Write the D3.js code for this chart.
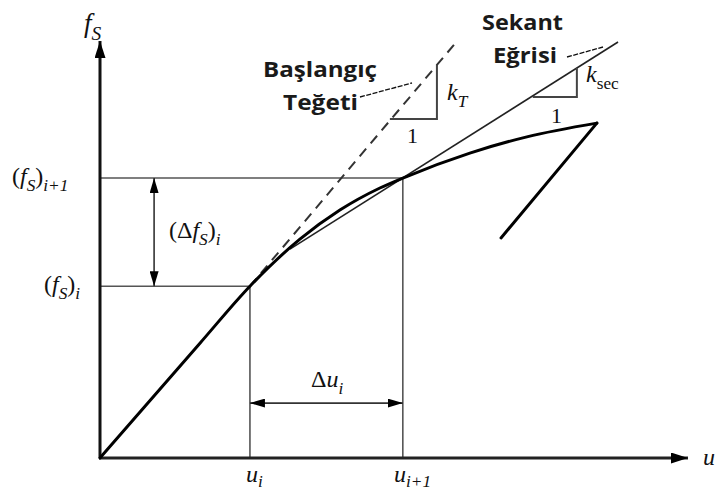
<!DOCTYPE html>
<html>
<head>
<meta charset="utf-8">
<script src="https://cdn.jsdelivr.net/npm/d3@7"></script>
<style>
  html, body { margin: 0; padding: 0; background: #fff; overflow: hidden; }
  svg { display: block; }
  .math { font-family: "Liberation Serif", "DejaVu Serif", serif; fill: #111; }
  .note { font-family: "Open Sans", "Noto Sans", sans-serif; font-weight: 700; fill: #1a1a1a; }
</style>
</head>
<body>
<svg id="chart" width="715" height="496"></svg>
<script>
// Force–displacement response (u, f_S): loading branch, then unloading
const curveU = [0, 1.70, 2.55, 3.40, 4.08, 4.76, 5.15, 6.29, 7.26, 8.45];
const curveF = [0, 2.76, 4.13, 5.26, 5.96, 6.49, 6.73, 7.33, 7.72, 8.05];
const unloadU = [8.45, 6.82];
const unloadF = [8.05, 5.29];

// Step i -> i+1
const stepU = [2.55, 5.15];   // u_i, u_{i+1}
const stepF = [4.13, 6.73];   // (f_S)_i, (f_S)_{i+1}

// Initial tangent (dashed) and secant line
const tangentU = [2.55, 6.09];
const tangentF = [4.13, 10.05];
const secantU = [3.23, 8.81];
const secantF = [5.02, 10.0];

// Slope triangles: [run start, run end], [rise bottom, rise top]
const tanTriU = [4.93, 5.73];
const tanTriF = [8.15, 9.45];
const secTriU = [7.36, 8.11];
const secTriF = [8.68, 9.375];

// Dimension arrows
const dfArrowU = 0.92;
const duArrowF = 1.32;

const svg = d3.select("#chart");
const x = d3.scaleLinear().domain([0, 10]).range([100, 688]);
const y = d3.scaleLinear().domain([0, 10]).range([458, 42]);

const defs = svg.append("defs");
function marker(id, len, wid) {
  defs.append("marker")
    .attr("id", id)
    .attr("viewBox", `0 ${-wid / 2} ${len} ${wid}`)
    .attr("refX", len).attr("refY", 0)
    .attr("markerUnits", "userSpaceOnUse")
    .attr("markerWidth", len).attr("markerHeight", wid)
    .attr("orient", "auto-start-reverse")
    .append("path")
    .attr("d", `M0,${-wid / 2}L${len},0L0,${wid / 2}Z`)
    .attr("fill", "#000");
}
marker("axisHead", 17, 11);
marker("dimHead", 15, 9);

const g = svg.append("g");
const seg = (x1, y1, x2, y2) => g.append("line")
  .attr("x1", x1).attr("y1", y1).attr("x2", x2).attr("y2", y2);

// Reference lines to the axes
const grey = "#555";
seg(x(0), y(stepF[1]), x(stepU[1]), y(stepF[1])).attr("stroke", grey).attr("stroke-width", 1.6);
seg(x(0), y(stepF[0]), x(stepU[0]), y(stepF[0])).attr("stroke", grey).attr("stroke-width", 1.6);
seg(x(stepU[0]), y(0), x(stepU[0]), y(stepF[0])).attr("stroke", grey).attr("stroke-width", 1.6);
seg(x(stepU[1]), y(0), x(stepU[1]), y(stepF[1])).attr("stroke", grey).attr("stroke-width", 1.6);

// Dimension arrows
seg(x(dfArrowU), y(stepF[1]), x(dfArrowU), y(stepF[0]))
  .attr("stroke", "#333").attr("stroke-width", 1.6)
  .attr("marker-start", "url(#dimHead)").attr("marker-end", "url(#dimHead)");
seg(x(stepU[0]), y(duArrowF), x(stepU[1]), y(duArrowF))
  .attr("stroke", "#333").attr("stroke-width", 1.6)
  .attr("marker-start", "url(#dimHead)").attr("marker-end", "url(#dimHead)");

// Axes
seg(x(0), y(0), x(0), y(10) - 1).attr("stroke", "#111").attr("stroke-width", 3)
  .attr("marker-end", "url(#axisHead)");
seg(x(0) - 1, y(0), x(10), y(0)).attr("stroke", "#222").attr("stroke-width", 3)
  .attr("marker-end", "url(#axisHead)");

// Tangent (dashed) and secant lines
seg(x(tangentU[0]), y(tangentF[0]), x(tangentU[1]), y(tangentF[1]))
  .attr("stroke", "#333").attr("stroke-width", 2).attr("stroke-dasharray", "10,7");
seg(x(secantU[0]), y(secantF[0]), x(secantU[1]), y(secantF[1]))
  .attr("stroke", "#222").attr("stroke-width", 1.6);

// Slope triangles
const tri = (us, fs) => g.append("path")
  .attr("d", d3.line()([[x(us[0]), y(fs[0])], [x(us[1]), y(fs[0])], [x(us[1]), y(fs[1])]]))
  .attr("fill", "none").attr("stroke", "#444").attr("stroke-width", 2);
tri(tanTriU, tanTriF);
tri(secTriU, secTriF);

// Response curve
const loadPts = curveU.map((u, i) => [u, curveF[i]]);
g.append("path")
  .datum(loadPts)
  .attr("d", d3.line().x(d => x(d[0])).y(d => y(d[1])).curve(d3.curveMonotoneX))
  .attr("fill", "none").attr("stroke", "#000").attr("stroke-width", 3)
  .attr("stroke-linejoin", "round").attr("stroke-linecap", "round");
g.append("path")
  .datum(unloadU.map((u, i) => [u, unloadF[i]]))
  .attr("d", d3.line().x(d => x(d[0])).y(d => y(d[1])))
  .attr("fill", "none").attr("stroke", "#000").attr("stroke-width", 3)
  .attr("stroke-linecap", "round");

// Leader lines for the notes
seg(360, 97, 412, 83).attr("stroke", "#111").attr("stroke-width", 1.3).attr("stroke-dasharray", "5,1.5");
seg(567, 57, 603, 47).attr("stroke", "#111").attr("stroke-width", 1.3).attr("stroke-dasharray", "5,1.5");

// Math labels built from runs: [text, italic, subscript]
function mathLabel(px, py, parts, size, shift = 0.28) {
  const t = svg.append("text").attr("class", "math").attr("x", px).attr("y", py)
    .attr("font-size", size);
  let level = 0;
  parts.forEach(([s, it, sub]) => {
    const target = sub ? 1 : 0;
    const ts = t.append("tspan").text(s)
      .attr("font-style", it ? "italic" : "normal")
      .attr("font-size", sub ? size * 0.72 : size);
    if (target !== level) ts.attr("dy", (target - level) * size * shift);
    level = target;
  });
  return t;
}

mathLabel(84, 32, [["f", true, false], ["S", true, true]], 27);
mathLabel(12, 184, [["(", false, false], ["f", true, false], ["S", true, true], [")", false, false], ["i+1", true, true]], 24);
mathLabel(44, 292, [["(", false, false], ["f", true, false], ["S", true, true], [")", false, false], ["i", true, true]], 24);
mathLabel(169, 238, [["(Δ", false, false], ["f", true, false], ["S", true, true], [")", false, false], ["i", true, true]], 24);
mathLabel(311, 387, [["Δ", false, false], ["u", true, false], ["i", true, true]], 24);
mathLabel(246, 482, [["u", true, false], ["i", true, true]], 24, 0.2);
mathLabel(394, 482, [["u", true, false], ["i+1", true, true]], 24, 0.2);
mathLabel(703, 465, [["u", true, false]], 24);
mathLabel(447, 100, [["k", true, false], ["T", true, true]], 24);
mathLabel(586, 82, [["k", true, false], ["sec", false, true]], 24);
mathLabel(407, 143, [["1", false, false]], 22);
mathLabel(551, 123, [["1", false, false]], 22);

// Notes
const note = (px, py, s, w) => svg.append("text").attr("class", "note")
  .attr("x", px).attr("y", py).attr("font-size", 22)
  .attr("textLength", w).attr("lengthAdjust", "spacingAndGlyphs").text(s);
note(263, 77, "Başlangıç", 114);
note(283, 110, "Teğeti", 75);
note(482, 30, "Sekant", 81);
note(493, 63, "Eğrisi", 64);
</script>
</body>
</html>
